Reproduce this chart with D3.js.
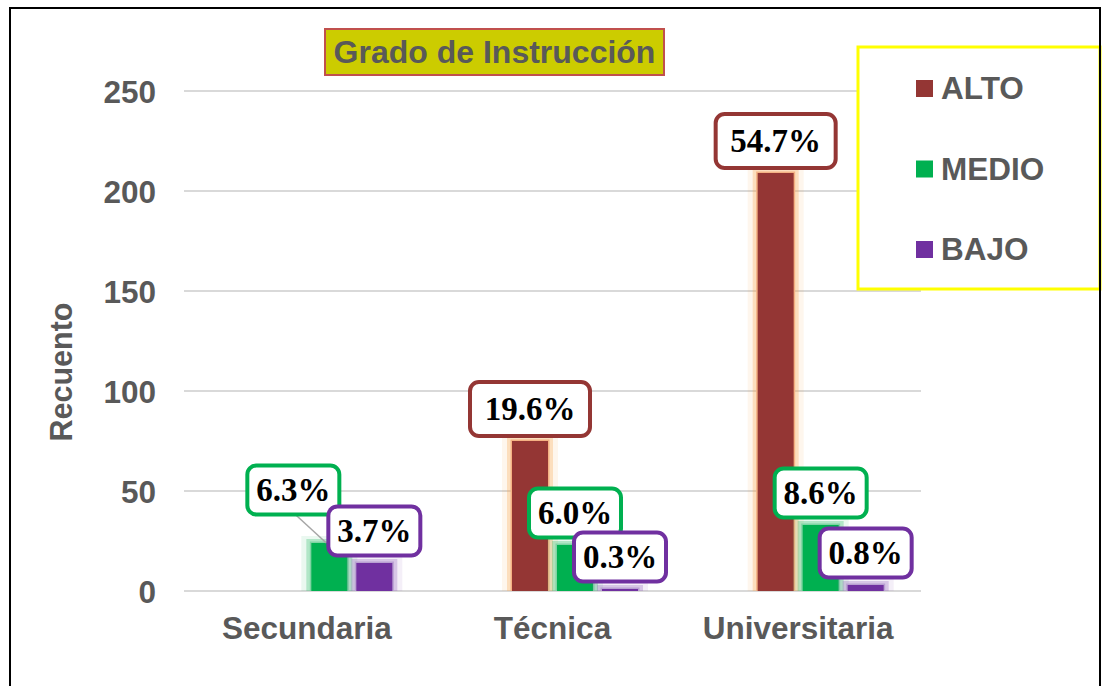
<!DOCTYPE html>
<html>
<head>
<meta charset="utf-8">
<script src="https://cdn.jsdelivr.net/npm/d3@7/dist/d3.min.js"></script>
<style>
  html, body { margin: 0; padding: 0; background: #ffffff; }
  svg { display: block; }
</style>
</head>
<body>
<svg id="chart" width="1105" height="686"></svg>
<script>
// ---- data ----
const categories = ["Secundaria", "Técnica", "Universitaria"];
const seriesNames = ["ALTO", "MEDIO", "BAJO"];
const altoValues  = [0, 75, 209];
const medioValues = [24, 23, 33];
const bajoValues  = [14, 1, 3];
const altoLabels  = ["", "19.6%", "54.7%"];
const medioLabels = ["6.3%", "6.0%", "8.6%"];
const bajoLabels  = ["3.7%", "0.3%", "0.8%"];
const yTicks = [0, 50, 100, 150, 200, 250];
const titleText = "Grado de Instrucción";
const yAxisTitle = "Recuento";

// ---- styles ----
const colors = { ALTO: "#943634", MEDIO: "#00B050", BAJO: "#7030A0" };
const glowColors = { ALTO: "#F8A54E", MEDIO: "#2EBD6B", BAJO: "#9466BE" };
const edgeColors = { ALTO: "#F4B183", MEDIO: "#7FD4A3", BAJO: "#B9A0D2" };
const gray = "#595959";
const sans = "Liberation Sans, Arial, sans-serif";

const svg = d3.select("#chart");

// outer frame
svg.append("rect").attr("x", 10).attr("y", 8).attr("width", 1090).attr("height", 700)
  .attr("fill", "#fff").attr("stroke", "#000").attr("stroke-width", 2);

const plot = { left: 184, right: 921, top: 91, bottom: 591 };
const y = d3.scaleLinear().domain([0, 250]).range([plot.bottom, plot.top]);
const x0 = d3.scaleBand().domain(categories).range([plot.left, plot.right]);
// Excel layout with an empty leading slot
const x1 = d3.scaleBand().domain(["_"].concat(seriesNames)).range([0, 180]).paddingInner(0.2).paddingOuter(0.1);

// gridlines
svg.append("g").selectAll("line").data(yTicks).join("line")
  .attr("x1", plot.left).attr("x2", plot.right)
  .attr("y1", d => y(d)).attr("y2", d => y(d))
  .attr("stroke", "#D9D9D9").attr("stroke-width", 2);

// y axis labels via axis generator
const yAxis = d3.axisLeft(y).tickValues(yTicks).tickSize(0).tickPadding(0);
const gy = svg.append("g").attr("transform", "translate(156,0)").call(yAxis);
gy.select(".domain").remove();
gy.selectAll("text").attr("font-family", sans)
  .attr("font-weight", "bold").attr("font-size", 31.5).attr("fill", gray)
  .attr("dy", "0.36em");

// x axis labels
const xAxis = d3.axisBottom(x0).tickSize(0).tickPadding(0);
const gx = svg.append("g").attr("transform", "translate(0,616)").call(xAxis);
gx.select(".domain").remove();
gx.selectAll("text").attr("font-family", sans)
  .attr("font-weight", "bold").attr("font-size", 31.5).attr("fill", gray)
  .attr("dy", "0.73em");

// y axis title
svg.append("text").attr("transform", "translate(72,372) rotate(-90)")
  .attr("text-anchor", "middle").attr("font-family", sans)
  .attr("font-weight", "bold").attr("font-size", 30.5).attr("fill", gray).text(yAxisTitle);

// build rows
const valueMap = { ALTO: altoValues, MEDIO: medioValues, BAJO: bajoValues };
const labelMap = { ALTO: altoLabels, MEDIO: medioLabels, BAJO: bajoLabels };
const rows = [];
seriesNames.forEach(s => {
  categories.forEach((c, i) => {
    rows.push({ series: s, cat: c, value: valueMap[s][i], label: labelMap[s][i] });
  });
});
const groupX = c => x0(c) + x0.bandwidth() / 2 - 90;
const bx = d => groupX(d.cat) + x1(d.series);
const bw = x1.bandwidth();

const bars = svg.append("g");
rows.filter(d => d.value > 0).forEach(d => {
  const xx = bx(d), yy = y(d.value), h = y(0) - y(d.value);
  bars.append("rect").attr("x", xx - 10).attr("y", yy - 7).attr("width", bw + 20).attr("height", h + 7)
    .attr("fill", glowColors[d.series]).attr("opacity", 0.1);
  bars.append("rect").attr("x", xx - 5).attr("y", yy - 4).attr("width", bw + 10).attr("height", h + 4)
    .attr("fill", glowColors[d.series]).attr("opacity", 0.3);
  bars.append("rect").attr("x", xx - 1.5).attr("y", yy - 1.5).attr("width", bw + 3).attr("height", h + 1.5)
    .attr("fill", edgeColors[d.series]);
  bars.append("rect").attr("x", xx).attr("y", yy).attr("width", bw).attr("height", h)
    .attr("fill", colors[d.series]);
});

// data labels (moved label for Secundaria/MEDIO)
const labelOffsets = { "MEDIO|Secundaria": [-36, -21] };
const labels = svg.append("g");
rows.filter(d => d.label !== "").forEach(d => {
  const cx0 = bx(d) + bw / 2;
  const cy0 = y(d.value) - 32;
  const off = labelOffsets[d.series + "|" + d.cat] || [0, 0];
  const cx = cx0 + off[0], cy = cy0 + off[1];
  const g = labels.append("g");
  g.append("text").attr("x", cx).attr("y", cy).attr("dy", "0.34em")
    .attr("text-anchor", "middle").attr("font-family", "Liberation Serif, DejaVu Serif, serif")
    .attr("font-weight", "bold").attr("font-size", 33).attr("fill", "#000").text(d.label);
  const bwid = 28 * d.label.length - 20, bh = d.series === "ALTO" ? 54 : 49;
  if (off[0] !== 0 || off[1] !== 0) {
    labels.insert("line", ":first-child").attr("x1", cx + 2).attr("y1", cy + bh / 2)
      .attr("x2", cx0 - 3).attr("y2", y(d.value))
      .attr("stroke", "#A6A6A6").attr("stroke-width", 1.5);
  }
  g.insert("rect", "text").attr("x", cx - bwid / 2).attr("y", cy - bh / 2)
    .attr("width", bwid).attr("height", bh).attr("rx", 9).attr("ry", 9)
    .attr("fill", "#fff").attr("stroke", colors[d.series]).attr("stroke-width", 4);
});

// title
svg.append("rect").attr("x", 325).attr("y", 29).attr("width", 339).attr("height", 46)
  .attr("fill", "#CCCC00").attr("stroke", "#C0504D").attr("stroke-width", 2);
svg.append("text").attr("x", 494.5).attr("y", 63).attr("text-anchor", "middle")
  .attr("font-family", sans).attr("font-weight", "bold")
  .attr("font-size", 32).attr("fill", gray).text(titleText);

// legend
svg.append("rect").attr("x", 858).attr("y", 47).attr("width", 242).attr("height", 242)
  .attr("fill", "#fff").attr("stroke", "#FFFF00").attr("stroke-width", 3);
const legendY = d3.scalePoint().domain(seriesNames).range([88.5, 249.5]);
const lg = svg.append("g").selectAll("g").data(seriesNames).join("g")
  .attr("transform", d => `translate(916,${legendY(d)})`);
lg.append("rect").attr("x", 0).attr("y", -8.5).attr("width", 17).attr("height", 17)
  .attr("fill", d => colors[d]);
lg.append("text").attr("x", 25).attr("y", 10.5).attr("font-family", sans)
  .attr("font-weight", "bold").attr("font-size", 31.5).attr("fill", gray).text(d => d);

// redraw right frame edge over legend
svg.append("line").attr("x1", 1100).attr("x2", 1100).attr("y1", 8).attr("y2", 686)
  .attr("stroke", "#000").attr("stroke-width", 2);
</script>
</body>
</html>
